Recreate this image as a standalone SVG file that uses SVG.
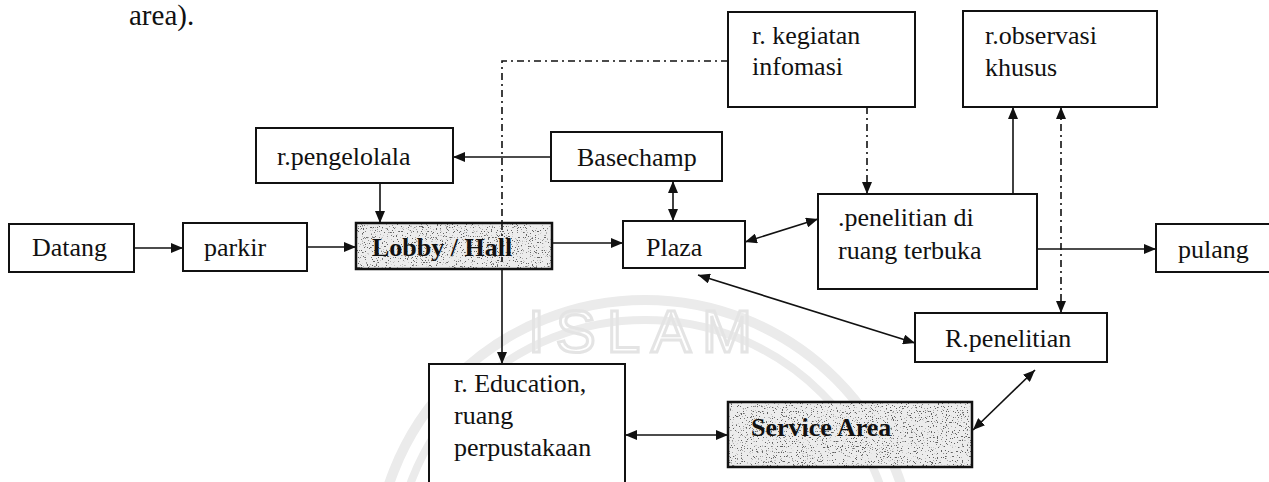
<svg xmlns="http://www.w3.org/2000/svg" width="1269" height="482" viewBox="0 0 1269 482">
  <style>
    .box { fill: #fff; stroke: #111; stroke-width: 2; }
    .lbl { font-family: "Liberation Serif", "Times New Roman", serif; font-size: 26px; fill: #111; }
    .bold { font-weight: bold; }
    .ln { fill: none; stroke: #111; stroke-width: 1.6; }
    .dd { stroke-dasharray: 7 4 2 4; }
    .wm { fill: none; stroke: #ebebeb; }
    .shade { fill: #ececec; }
  </style>
  <defs>
    <marker id="arr" viewBox="0 0 12 10" refX="12" refY="5" markerWidth="12" markerHeight="10" markerUnits="userSpaceOnUse" orient="auto-start-reverse">
      <path d="M0,0 L12,5 L0,10 z" fill="#111" stroke="none"/>
    </marker>
    <!-- speckled print texture for the shaded boxes -->
    <filter id="grain" x="0" y="0" width="100%" height="100%">
      <feTurbulence type="fractalNoise" baseFrequency="0.8" numOctaves="2" seed="7" result="n"/>
      <feColorMatrix in="n" type="matrix" values="0 0 0 0 0.12  0 0 0 0 0.12  0 0 0 0 0.12  -13 0 0 0 4.9" result="specks"/>
      <feComposite in="specks" in2="SourceAlpha" operator="in"/>
    </filter>
  </defs>

  <rect width="1269" height="482" fill="#fff"/>

  <!-- faint background emblem -->
  <g id="emblem">
    <circle class="wm" cx="645" cy="570" r="270" stroke-width="10"/>
    <circle class="wm" cx="645" cy="570" r="250" stroke-width="8"/>
    <text x="528" y="352" font-family="Liberation Sans, Arial, sans-serif" font-size="60" letter-spacing="11" fill="none" stroke="#e4e4e4" stroke-width="3">ISLAM</text>
  </g>

  <text x="129" y="25" font-family="Liberation Serif, Times New Roman, serif" font-size="29" fill="#111">area).</text>

  <!-- connectors -->
  <g id="connectors">
    <path class="ln" d="M134,248 H183" marker-end="url(#arr)"/>
    <path class="ln" d="M307,247 H356" marker-end="url(#arr)"/>
    <path class="ln" d="M380,183 V223" marker-end="url(#arr)"/>
    <path class="ln" d="M551,157 H453" marker-end="url(#arr)"/>
    <path class="ln" d="M552,243 H623" marker-end="url(#arr)"/>
    <path class="ln" d="M673,181 V221" marker-start="url(#arr)" marker-end="url(#arr)"/>
    <path class="ln" d="M745,242 L818,219" marker-start="url(#arr)" marker-end="url(#arr)"/>
    <path class="ln" d="M698,275 L915,343" marker-start="url(#arr)" marker-end="url(#arr)"/>
    <path class="ln" d="M502,269 V364" marker-end="url(#arr)"/>
    <path class="ln dd" d="M728,61 H502 V223"/>
    <path class="ln dd" d="M867,107 V194" marker-end="url(#arr)"/>
    <path class="ln" d="M1013,194 V107" marker-end="url(#arr)"/>
    <path class="ln dd" d="M1061,107 V313" marker-start="url(#arr)" marker-end="url(#arr)"/>
    <path class="ln" d="M1037,249 H1156" marker-end="url(#arr)"/>
    <path class="ln" d="M625,435 H728" marker-start="url(#arr)" marker-end="url(#arr)"/>
    <path class="ln" d="M973,430 L1035,370" marker-start="url(#arr)" marker-end="url(#arr)"/>
  </g>

  <g id="datang">
    <rect class="box" x="9" y="224" width="125" height="48"/>
    <text class="lbl" x="32" y="256">Datang</text>
  </g>
  <g id="parkir">
    <rect class="box" x="183" y="223" width="124" height="48"/>
    <text class="lbl" x="204" y="256">parkir</text>
  </g>
  <g id="lobby">
    <rect class="shade" x="356" y="223" width="196" height="46"/>
    <rect x="357" y="224" width="194" height="44" fill="#000" filter="url(#grain)"/>
    <path class="ln dd" d="M502,223 V262" stroke="#333"/>
    <rect x="356" y="223" width="196" height="46" fill="none" stroke="#111" stroke-width="2.5"/>
    <text class="lbl bold" x="372" y="256">Lobby / Hall</text>
  </g>
  <g id="pengelola">
    <rect class="box" x="256" y="128" width="197" height="55"/>
    <text class="lbl" x="277" y="165">r.pengelolala</text>
  </g>
  <g id="basechamp">
    <rect class="box" x="551" y="132" width="171" height="49"/>
    <text class="lbl" x="577" y="166">Basechamp</text>
  </g>
  <g id="plaza">
    <rect class="box" x="623" y="221" width="122" height="47"/>
    <text class="lbl" x="646" y="256">Plaza</text>
  </g>
  <g id="kegiatan">
    <rect class="box" x="728" y="12" width="187" height="95"/>
    <text class="lbl" x="752" y="44">r. kegiatan</text>
    <text class="lbl" x="752" y="75">infomasi</text>
  </g>
  <g id="observasi">
    <rect class="box" x="963" y="11" width="194" height="96"/>
    <text class="lbl" x="985" y="44">r.observasi</text>
    <text class="lbl" x="985" y="76">khusus</text>
  </g>
  <g id="penelitian-terbuka">
    <rect class="box" x="818" y="194" width="219" height="95"/>
    <text class="lbl" x="838" y="226">.penelitian di</text>
    <text class="lbl" x="838" y="259">ruang terbuka</text>
  </g>
  <g id="pulang">
    <rect class="box" x="1156" y="224" width="120" height="48"/>
    <text class="lbl" x="1178" y="258">pulang</text>
  </g>
  <g id="r-penelitian">
    <rect class="box" x="915" y="313" width="192" height="49"/>
    <text class="lbl" x="945" y="347">R.penelitian</text>
  </g>
  <g id="education">
    <rect class="box" x="429" y="364" width="196" height="130"/>
    <text class="lbl" x="454" y="392">r. Education,</text>
    <text class="lbl" x="454" y="424">ruang</text>
    <text class="lbl" x="454" y="456">perpustakaan</text>
  </g>
  <g id="service">
    <rect class="shade" x="728" y="402" width="244" height="65"/>
    <rect x="729" y="403" width="242" height="63" fill="#000" filter="url(#grain)"/>
    <rect x="728" y="402" width="244" height="65" fill="none" stroke="#111" stroke-width="2.5"/>
    <text class="lbl bold" x="751" y="436">Service Area</text>
  </g>
</svg>
